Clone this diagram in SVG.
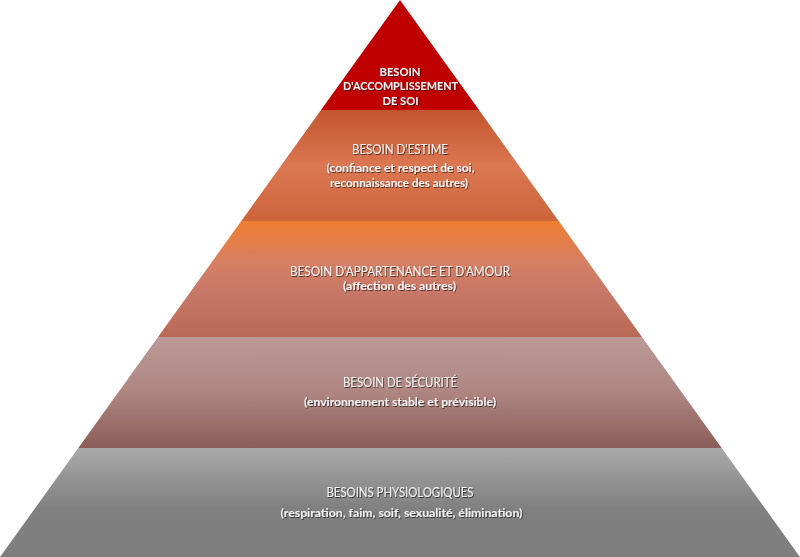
<svg xmlns="http://www.w3.org/2000/svg" width="800" height="557" viewBox="0 0 800 557">
<defs>
<linearGradient id="g2" x1="0" y1="0" x2="0" y2="1">
<stop offset="0" stop-color="#C2552E"/>
<stop offset="0.5" stop-color="#DB7752"/>
<stop offset="1" stop-color="#CD643C"/>
</linearGradient>
<linearGradient id="g3" x1="0" y1="0" x2="0" y2="1">
<stop offset="0" stop-color="#EE7D30"/>
<stop offset="0.35" stop-color="#D67F62"/>
<stop offset="0.6" stop-color="#C87868"/>
<stop offset="1" stop-color="#B86A56"/>
</linearGradient>
<linearGradient id="g4" x1="0" y1="0" x2="0" y2="1">
<stop offset="0" stop-color="#BA9A97"/>
<stop offset="0.5" stop-color="#AE8581"/>
<stop offset="1" stop-color="#8A5D58"/>
</linearGradient>
<linearGradient id="g5" x1="0" y1="0" x2="0" y2="1">
<stop offset="0" stop-color="#A9A9A9"/>
<stop offset="0.55" stop-color="#808080"/>
<stop offset="1" stop-color="#7E7E7E"/>
</linearGradient>
<filter id="sh" x="-10%" y="-50%" width="120%" height="200%">
<feDropShadow dx="0.8" dy="1" stdDeviation="0.7" flood-color="#000" flood-opacity="0.6"/>
</filter>
</defs>
<style>
text{font-family:Lato,"Open Sans","Liberation Sans",sans-serif;fill:#F2F2F2;text-anchor:middle;filter:url(#sh)}
.h{font-size:13px}
.b{font-size:11.5px;font-weight:bold}
</style>
<rect width="800" height="557" fill="#FFFFFF"/>
<g id="level-accomplissement">
<polygon points="400,0 479,110 321,110" fill="#C00000"/>
<text class="b" x="400" y="75.7" textLength="41" lengthAdjust="spacingAndGlyphs">BESOIN</text>
<text class="b" x="400.5" y="90" textLength="115" lengthAdjust="spacingAndGlyphs">D'ACCOMPLISSEMENT</text>
<text class="b" x="400.5" y="104.5" textLength="36" lengthAdjust="spacingAndGlyphs">DE SOI</text>
</g>
<g id="level-estime">
<polygon points="321,110 479,110 558.7,221 241.3,221" fill="url(#g2)"/>
<text class="h" x="400" y="154" textLength="96" lengthAdjust="spacingAndGlyphs">BESOIN D'ESTIME</text>
<text class="b" x="400.5" y="172.3" textLength="148" lengthAdjust="spacingAndGlyphs">(confiance et respect de soi,</text>
<text class="b" x="399" y="186.7" textLength="138" lengthAdjust="spacingAndGlyphs">reconnaissance des autres)</text>
</g>
<g id="level-appartenance">
<polygon points="241.3,221 558.7,221 642,337 158,337" fill="url(#g3)"/>
<text class="h" x="400" y="276" textLength="220" lengthAdjust="spacingAndGlyphs">BESOIN D'APPARTENANCE ET D'AMOUR</text>
<text class="b" x="399.5" y="290" textLength="113" lengthAdjust="spacingAndGlyphs">(affection des autres)</text>
</g>
<g id="level-securite">
<polygon points="158,337 642,337 721.7,448 78.3,448" fill="url(#g4)"/>
<text class="h" x="400" y="387" textLength="114" lengthAdjust="spacingAndGlyphs">BESOIN DE SÉCURITÉ</text>
<text class="b" x="400" y="406" textLength="192" lengthAdjust="spacingAndGlyphs">(environnement stable et prévisible)</text>
</g>
<g id="level-physiologiques">
<polygon points="78.3,448 721.7,448 800,557 0,557" fill="url(#g5)"/>
<text class="h" x="400" y="497" textLength="147" lengthAdjust="spacingAndGlyphs">BESOINS PHYSIOLOGIQUES</text>
<text class="b" x="401.5" y="517" textLength="242" lengthAdjust="spacingAndGlyphs">(respiration, faim, soif, sexualité, élimination)</text>
</g>
<g id="connectors"/>
</svg>
